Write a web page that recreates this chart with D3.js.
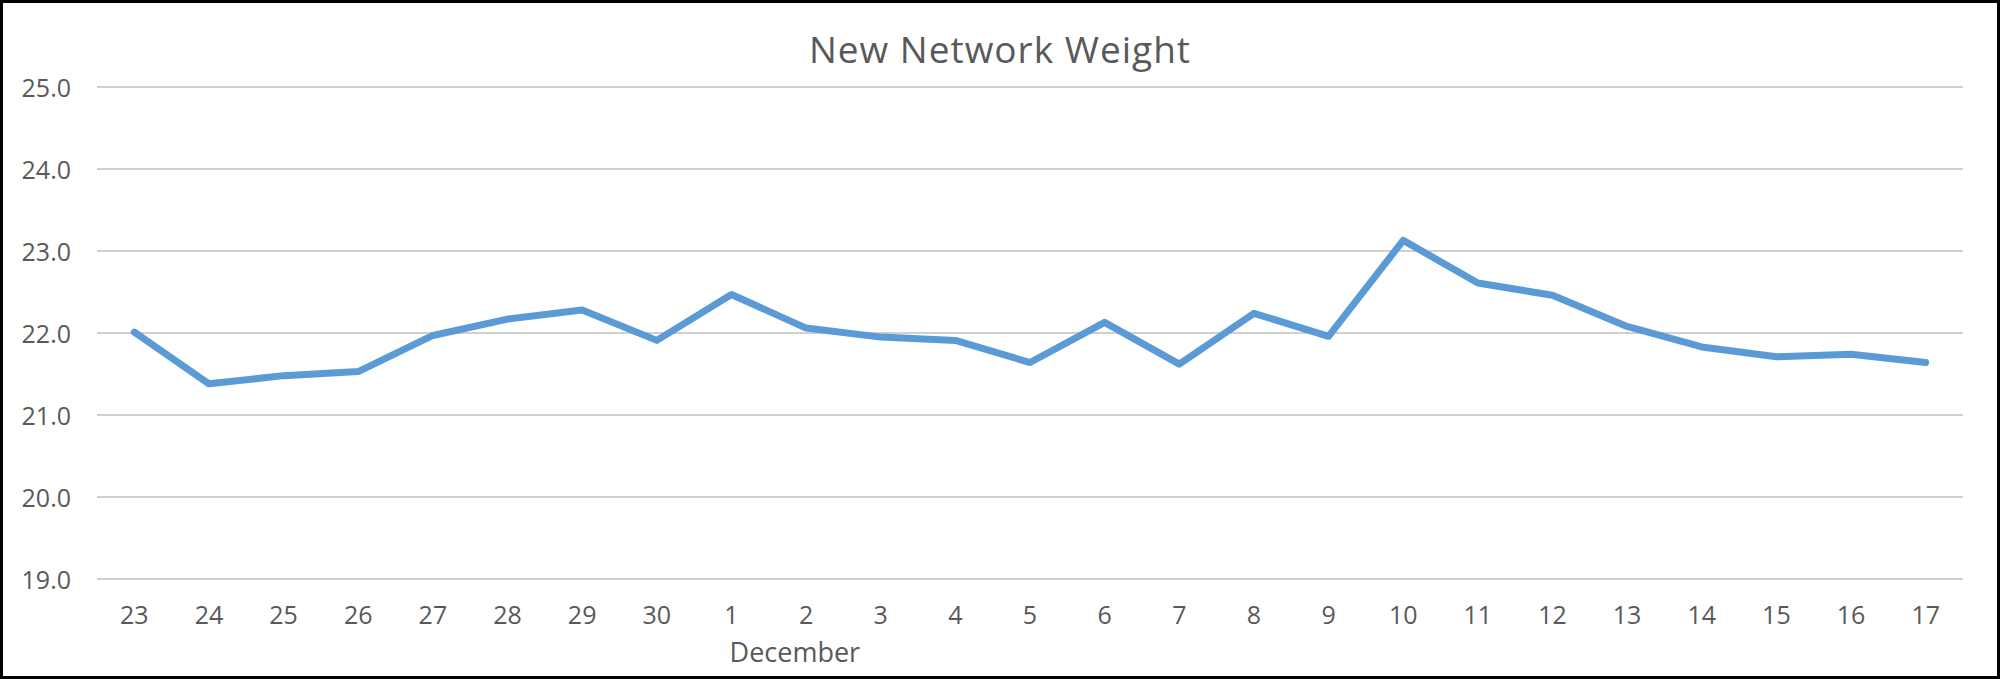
<!DOCTYPE html>
<html>
<head>
<meta charset="utf-8">
<script src="https://cdn.jsdelivr.net/npm/d3@7"></script>
<style>
  html, body { margin: 0; padding: 0; background: #fff; }
  svg { display: block; }
  text { font-family: "Open Sans", "Noto Sans", sans-serif; fill: #595959; }
</style>
</head>
<body>
<svg id="chart" width="2000" height="679"></svg>
<script>
const categories = ["23","24","25","26","27","28","29","30","1","2","3","4","5","6","7","8","9","10","11","12","13","14","15","16","17"];
const values = [22.01, 21.38, 21.48, 21.53, 21.97, 22.17, 22.28, 21.91, 22.47, 22.06, 21.95, 21.91, 21.64, 22.13, 21.62, 22.24, 21.96, 23.13, 22.61, 22.46, 22.08, 21.83, 21.71, 21.74, 21.64];
const yTicks = [19, 20, 21, 22, 23, 24, 25];
const title = "New Network Weight";
const monthLabel = "December";

(function () {
const W = 2000, H = 679;
const mLeft = 97, mRight = 1963, mTop = 87, mBottom = 579;

const svg = d3.select("#chart");
svg.append("rect").attr("x", 0).attr("y", 0).attr("width", W).attr("height", H).attr("fill", "#fff");

const x = d3.scaleBand().domain(categories).range([mLeft, mRight]).padding(0);
const y = d3.scaleLinear().domain([19, 25]).range([mBottom, mTop]);

// gridlines
svg.append("g").selectAll("line").data(yTicks).join("line")
  .attr("x1", mLeft).attr("x2", mRight)
  .attr("y1", d => y(d)).attr("y2", d => y(d))
  .attr("stroke", "#d0d0d0").attr("stroke-width", 2);

// y axis labels
const yAxis = d3.axisLeft(y).tickValues(yTicks).tickFormat(d3.format(".1f")).tickSize(0).tickPadding(26);
const gy = svg.append("g").attr("transform", `translate(${mLeft},0)`).call(yAxis);
gy.select(".domain").remove();
gy.selectAll("text").attr("font-size", 25).attr("dy", "0.38em").attr("fill", "#595959").style("font-family", "'Open Sans', sans-serif");

// x axis labels
const xAxis = d3.axisBottom(x).tickSize(0).tickPadding(27);
const gx = svg.append("g").attr("transform", `translate(0,${mBottom})`).call(xAxis);
gx.select(".domain").remove();
gx.selectAll("text").attr("font-size", 25).attr("fill", "#595959").style("font-family", "'Open Sans', sans-serif");

// month label
svg.append("text")
  .attr("x", x("1") + x.bandwidth() * 1.35)
  .attr("y", 662)
  .attr("text-anchor", "middle")
  .attr("font-size", 27)
  .attr("fill", "#6e6e6e")
  .text(monthLabel);

// line
const line = d3.line()
  .x((d, i) => x(categories[i]) + x.bandwidth() / 2)
  .y(d => y(d));
svg.append("path").datum(values)
  .attr("d", line)
  .attr("fill", "none")
  .attr("stroke", "#5B9BD5")
  .attr("stroke-width", 7)
  .attr("stroke-linejoin", "round")
  .attr("stroke-linecap", "round");

// title
svg.append("text")
  .attr("x", 1000).attr("y", 63)
  .attr("text-anchor", "middle")
  .attr("font-size", 37)
  .attr("letter-spacing", 1)
  .attr("fill", "#595959")
  .text(title);

// border
svg.append("rect").attr("x", 1.5).attr("y", 1.5).attr("width", W - 3).attr("height", H - 3)
  .attr("fill", "none").attr("stroke", "#000").attr("stroke-width", 3);
})();
</script>
</body>
</html>
